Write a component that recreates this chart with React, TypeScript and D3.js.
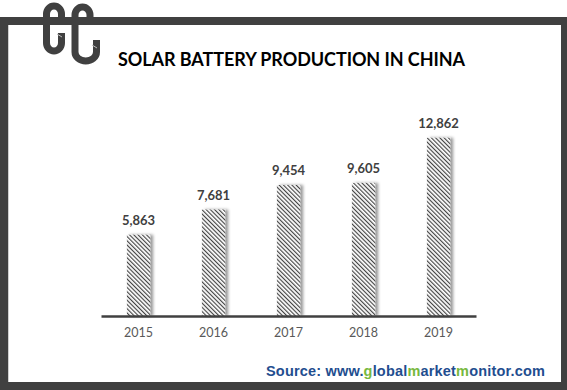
import * as d3 from 'd3';
import React from 'react';

const years = ['2015', '2016', '2017', '2018', '2019'];
const production = [5863, 7681, 9454, 9605, 12862];
const chartTitle = 'SOLAR BATTERY PRODUCTION IN CHINA';
// source line split so the green letters can be coloured
const sourceParts = [
  { text: 'Source: www.', green: false },
  { text: 'g', green: true },
  { text: 'lobal', green: false },
  { text: 'm', green: true },
  { text: 'arket', green: false },
  { text: 'm', green: true },
  { text: 'onitor.com', green: false },
];

export default class App extends React.Component {
  width = 567;
  height = 390;
  margin = { left: 101, right: 91, top: 122, bottom: 74 };
  _rootNode: any = null;

  componentDidMount() {
    document.body.style.margin = '0';
    this.create();
  }

  create() {
    const svg = d3.select(this._rootNode)
      .append('svg')
      .attr('width', this.width)
      .attr('height', this.height)
      .style('display', 'block');

    const defs = svg.append('defs');
    const pat = defs.append('pattern')
      .attr('id', 'hatch')
      .attr('patternUnits', 'userSpaceOnUse')
      .attr('width', 3)
      .attr('height', 3)
      .attr('patternTransform', 'rotate(-45)');
    pat.append('rect').attr('width', 3).attr('height', 3).attr('fill', '#fff');
    pat.append('line')
      .attr('x1', 0.6).attr('y1', 0).attr('x2', 0.6).attr('y2', 3)
      .attr('stroke', '#3a3a3a').attr('stroke-width', 1.1);

    const shadow = defs.append('filter')
      .attr('id', 'shadow')
      .attr('x', '-20%').attr('y', '-10%')
      .attr('width', '160%').attr('height', '120%');
    shadow.append('feDropShadow')
      .attr('dx', 3).attr('dy', 0)
      .attr('stdDeviation', 1.6)
      .attr('flood-color', '#000')
      .attr('flood-opacity', 0.4);

    // frame
    svg.append('rect').attr('x', 0).attr('y', 17).attr('width', 567).attr('height', 373).attr('fill', '#404040');
    svg.append('rect').attr('x', 8).attr('y', 25).attr('width', 553).attr('height', 357).attr('fill', '#fff');
    svg.append('line').attr('x1', 8.5).attr('y1', 25).attr('x2', 8.5).attr('y2', 382)
      .attr('stroke', '#cfcfcf').attr('stroke-width', 1);

    // logo hooks
    const logo = svg.append('g')
      .attr('fill', 'none')
      .attr('stroke', '#404040')
      .attr('stroke-width', 7);
    logo.append('path').attr('d', 'M61.5,33 L61.5,43 A7.5,8 0 0 1 46.5,43 L46.5,14 A7.5,8 0 0 1 61.5,14 L61.5,24');
    logo.append('path').attr('d', 'M96.5,40 L96.5,52 A10.75,9 0 0 1 75,52 L75,15 A7.5,8 0 0 1 90,15 L90,24');
    logo.append('line').attr('x1', 57).attr('y1', 34).attr('x2', 62).attr('y2', 37)
      .attr('stroke', '#bbb').attr('stroke-width', 1);
    logo.append('line').attr('x1', 92).attr('y1', 45).attr('x2', 97).attr('y2', 48)
      .attr('stroke', '#bbb').attr('stroke-width', 1);

    // title
    svg.append('text')
      .attr('x', 118)
      .attr('y', 66)
      .attr('textLength', 347)
      .style('font-family', 'Lato, sans-serif')
      .style('font-weight', 'bold')
      .style('font-size', '18px')
      .attr('fill', '#000')
      .text(chartTitle);

    const x = d3.scaleBand()
      .domain(years)
      .range([this.margin.left, this.width - this.margin.right])
      .paddingInner(0.69)
      .paddingOuter(0.345);

    const y = d3.scaleLinear()
      .domain([0, 14000])
      .range([this.height - this.margin.bottom, this.margin.top]);

    const data = years.map((yr, i) => ({ year: yr, value: production[i] }));

    svg.append('g')
      .selectAll('rect')
      .data(data)
      .enter()
      .append('rect')
      .attr('x', d => x(d.year))
      .attr('y', d => y(d.value))
      .attr('width', x.bandwidth())
      .attr('height', d => y(0) - y(d.value))
      .attr('fill', 'url(#hatch)')
      .attr('filter', 'url(#shadow)');

    svg.append('g')
      .selectAll('text')
      .data(data)
      .enter()
      .append('text')
      .attr('x', d => x(d.year) + x.bandwidth() / 2)
      .attr('y', d => y(d.value) - 10)
      .attr('text-anchor', 'middle')
      .style('font-family', 'Lato, sans-serif')
      .style('font-weight', 'bold')
      .style('font-size', '13px')
      .attr('fill', '#404040')
      .text(d => d3.format(',')(d.value));

    // x axis
    svg.append('g')
      .attr('transform', 'translate(0,' + y(0) + ')')
      .call(d3.axisBottom(x).tickSize(0).tickSizeOuter(0))
      .call(g => g.select('.domain').attr('stroke', '#404040').attr('stroke-width', 2.5))
      .call(g => g.selectAll('.tick text')
        .attr('y', 21)
        .attr('dy', 0)
        .attr('fill', '#595959')
        .style('font-family', 'Lato, sans-serif')
        .style('font-size', '12.5px'));

    // source
    const src = svg.append('text')
      .attr('x', 266)
      .attr('y', 376)
      .attr('textLength', 279)
      .style('font-family', '"Liberation Sans", Arial, sans-serif')
      .style('font-weight', 'bold')
      .style('font-size', '14.5px');
    src.selectAll('tspan')
      .data(sourceParts)
      .enter()
      .append('tspan')
      .attr('fill', d => d.green ? '#78b83e' : '#1f4e8f')
      .text(d => d.text);
  }

  _setRef(node: any) {
    this._rootNode = node;
  }

  render() {
    return <div id="chart" ref={this._setRef.bind(this)}></div>;
  }
}
